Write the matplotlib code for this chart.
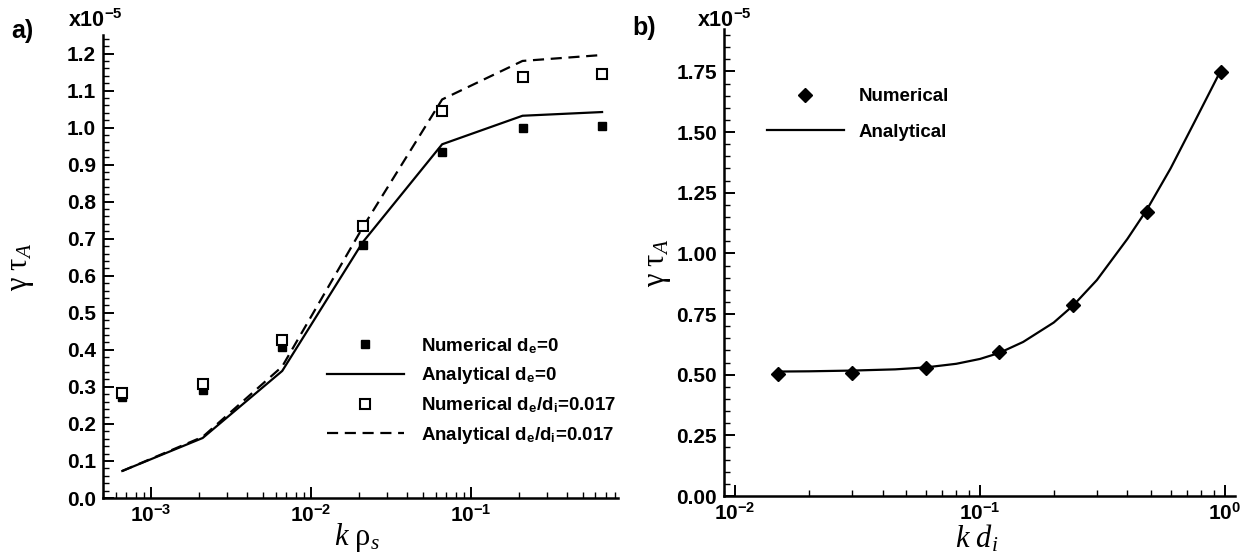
import numpy as np
import matplotlib
matplotlib.use("Agg")
import matplotlib.pyplot as plt
from matplotlib.ticker import LogLocator, MultipleLocator, FuncFormatter, NullFormatter

plt.rcParams['font.family'] = ['Liberation Sans', 'DejaVu Sans']
plt.rcParams['font.weight'] = 'bold'
plt.rcParams['mathtext.fontset'] = 'custom'
plt.rcParams['mathtext.rm'] = 'Liberation Serif:weight=normal'
plt.rcParams['mathtext.it'] = 'Liberation Serif:style=italic:weight=normal'
plt.rcParams['mathtext.bf'] = 'Liberation Sans:weight=bold'
plt.rcParams['mathtext.sf'] = 'Liberation Sans:weight=bold'

# ---------------- data (units of 1e-5) ----------------
k_rho = [6.6e-4, 2.1e-3, 6.6e-3, 2.1e-2, 6.6e-2, 2.1e-1, 6.6e-1]
num_de0 = [0.273, 0.292, 0.408, 0.684, 0.935, 0.998, 1.005]
ana_de0 = [0.073, 0.162, 0.343, 0.690, 0.955, 1.032, 1.042]
num_de017 = [0.284, 0.307, 0.427, 0.735, 1.046, 1.136, 1.146]
ana_de017 = [0.073, 0.165, 0.355, 0.730, 1.076, 1.180, 1.196]

k_di = [0.015, 0.03, 0.06, 0.12, 0.24, 0.48, 0.96]
num_b = [0.503, 0.507, 0.527, 0.593, 0.788, 1.171, 1.746]
k_di_line = [0.015, 0.02, 0.03, 0.045, 0.06, 0.08, 0.10, 0.12, 0.15, 0.20,
             0.24, 0.30, 0.40, 0.48, 0.60, 0.75, 0.96]
ana_b = [0.513, 0.514, 0.517, 0.522, 0.530, 0.545, 0.565, 0.590, 0.635, 0.715,
         0.785, 0.890, 1.060, 1.180, 1.350, 1.540, 1.752]

W, H = 1252, 558
fig = plt.figure(figsize=(W / 100, H / 100), dpi=100)

def px(x0, y0, x1, y1):
    return [x0 / W, 1 - y1 / H, (x1 - x0) / W, (y1 - y0) / H]

axa = fig.add_axes(px(103, 35, 618, 498))
axb = fig.add_axes(px(724, 29, 1235, 496))

def log_fmt(v, pos):
    e = int(round(np.log10(v)))
    return r"$\mathbf{10^{%d}}$" % e

def style(ax):
    for s in ['top', 'right']:
        ax.spines[s].set_visible(False)
    for s in ['left', 'bottom']:
        ax.spines[s].set_linewidth(1.8)
    ax.set_xscale('log')
    ax.xaxis.set_major_locator(LogLocator(base=10, numticks=10))
    ax.xaxis.set_minor_locator(LogLocator(base=10, subs=np.arange(2, 10), numticks=20))
    ax.xaxis.set_major_formatter(FuncFormatter(log_fmt))
    ax.xaxis.set_minor_formatter(NullFormatter())
    ax.tick_params(which='major', direction='in', length=8, width=1.4, labelsize=15, pad=4)
    ax.tick_params(which='minor', direction='in', length=4, width=1.0)
    ax.tick_params(axis='y', which='major', pad=5)
    ax.tick_params(top=False, right=False, which='both')

# ---------------- panel a ----------------
style(axa)
axa.plot(k_rho, ana_de0, color='black', lw=1.6, label=r'Analytical d$_\mathbf{e}$=0')
axa.plot(k_rho, ana_de017, color='black', lw=1.6, dashes=(5, 3),
         label=r'Analytical d$_\mathbf{e}$/d$_\mathbf{i}$=0.017')
axa.plot(k_rho, num_de0, ls='none', marker='s', ms=6, mfc='black', mec='black',
         label=r'Numerical d$_\mathbf{e}$=0')
axa.plot(k_rho, num_de017, ls='none', marker='s', ms=6.5, mfc='white', mec='black', mew=1.5,
         label=r'Numerical d$_\mathbf{e}$/d$_\mathbf{i}$=0.017')
axa.set_xlim(5e-4, 0.83)
axa.set_ylim(0, 1.25)
axa.yaxis.set_major_locator(MultipleLocator(0.1))
axa.yaxis.set_minor_locator(MultipleLocator(0.02))
axa.yaxis.set_major_formatter(FuncFormatter(lambda v, p: "%.1f" % v))
axa.set_xlabel(r'$k\ \mathrm{\rho}_s$', fontsize=22, fontweight='normal')
axa.xaxis.set_label_coords(0.493, -0.05)
axa.set_ylabel(r'$\mathrm{\gamma}\ \mathrm{\tau}_A$', fontsize=22, fontweight='normal')
axa.yaxis.set_label_coords(-0.13, 0.5)

h, l = axa.get_legend_handles_labels()
order = [2, 0, 3, 1]
axa.legend([h[i] for i in order], [l[i] for i in order], loc='upper left',
           bbox_to_anchor=(327 / W, 1 - 336 / H), bbox_transform=fig.transFigure,
           frameon=False, numpoints=1, handlelength=4.1, handletextpad=0.9,
           labelspacing=0.5, borderpad=0, borderaxespad=0, fontsize=13.5)

# ---------------- panel b ----------------
style(axb)
axb.plot(k_di, num_b, ls='none', marker='D', ms=7.5, color='black', label='Numerical')
axb.plot(k_di_line, ana_b, color='black', lw=1.6, label='Analytical')
axb.set_xlim(0.009, 1.1)
axb.set_ylim(0, 1.925)
axb.yaxis.set_major_locator(MultipleLocator(0.25))
axb.yaxis.set_minor_locator(MultipleLocator(0.05))
axb.yaxis.set_major_formatter(FuncFormatter(lambda v, p: "%.2f" % v))
axb.set_xlabel(r'$k\ d_i$', fontsize=22, fontweight='normal')
axb.xaxis.set_label_coords(0.495, -0.058)
axb.set_ylabel(r'$\mathrm{\gamma}\ \mathrm{\tau}_A$', fontsize=22, fontweight='normal')
axb.yaxis.set_label_coords(-0.10, 0.5)
axb.legend(loc='upper left', bbox_to_anchor=(767 / W, 1 - 88 / H),
           bbox_transform=fig.transFigure, frameon=False, numpoints=1,
           handlelength=4.1, handletextpad=0.8, labelspacing=1.0,
           borderpad=0, borderaxespad=0, fontsize=13.5)

# ---------------- annotations ----------------
fig.text(68 / W, 1 - 27 / H, r'$\mathbf{x10^{-5}}$', fontsize=15.5, ha='left', va='baseline')
fig.text(697 / W, 1 - 27 / H, r'$\mathbf{x10^{-5}}$', fontsize=15.5, ha='left', va='baseline')
fig.text(11 / W, 1 - 38 / H, 'a)', fontsize=18, fontweight='bold', ha='left', va='baseline')
fig.text(632 / W, 1 - 35 / H, 'b)', fontsize=18, fontweight='bold', ha='left', va='baseline')

fig.savefig('out.png', dpi=100)
